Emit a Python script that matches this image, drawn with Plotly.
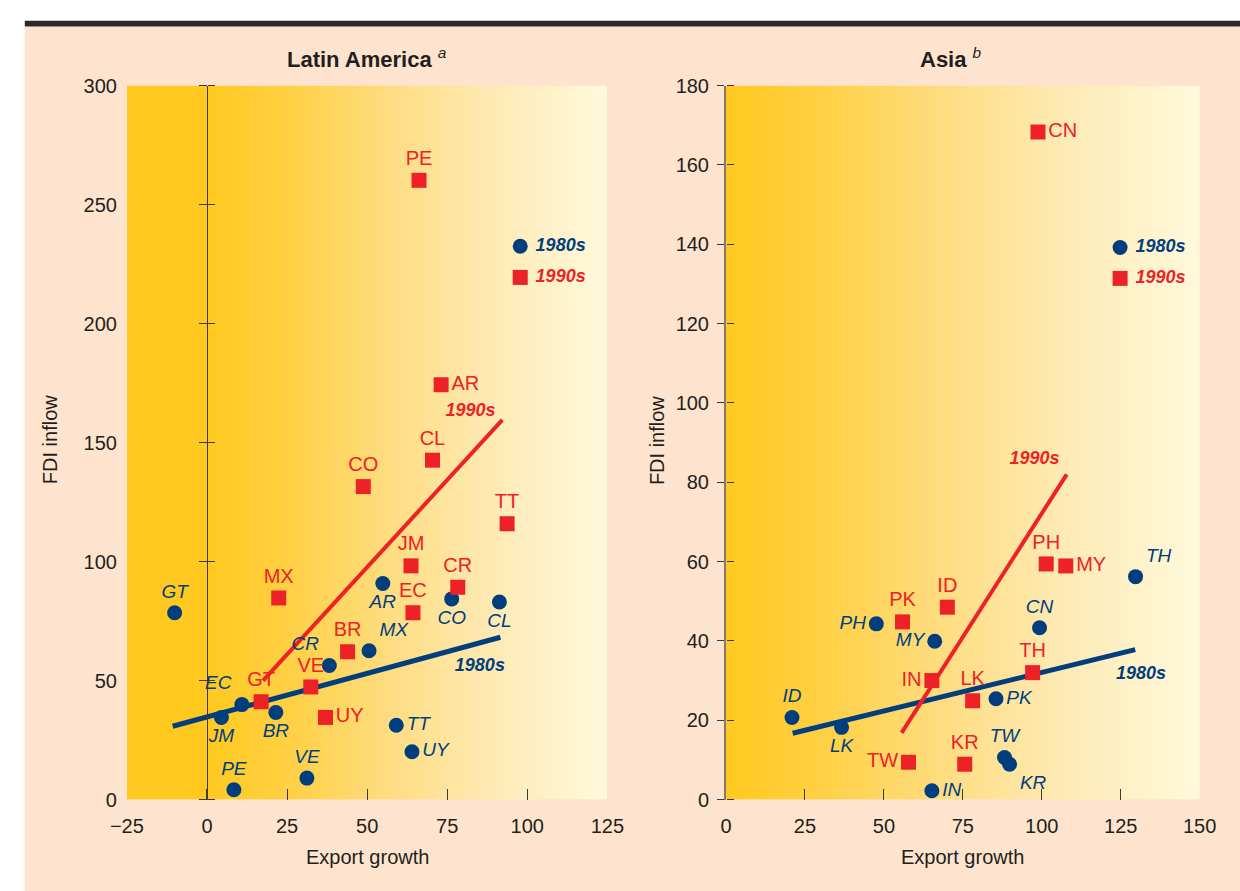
import numpy as np
import plotly.graph_objects as go

# ---------------------------------------------------------------- data
# Latin America, average of the 1980s (circles)
la80_codes = ["GT", "EC", "JM", "BR", "PE", "VE", "CR", "MX", "AR", "CO", "CL", "TT", "UY"]
la80_export = [-10.1, 10.9, 4.5, 21.5, 8.4, 31.2, 38.2, 50.6, 54.9, 76.4, 91.3, 59.1, 64.0]
la80_fdi = [78.5, 39.9, 34.5, 36.6, 4.1, 9.0, 56.3, 62.5, 90.8, 84.3, 83.0, 31.2, 20.1]

# Latin America, 1990s (squares)
la90_codes = ["PE", "AR", "CL", "CO", "TT", "JM", "CR", "EC", "MX", "BR", "VE", "GT", "UY"]
la90_export = [66.2, 73.1, 70.4, 48.8, 93.7, 63.7, 78.3, 64.3, 22.4, 43.9, 32.4, 16.9, 37.0]
la90_fdi = [260.2, 174.3, 142.6, 131.5, 115.9, 98.2, 89.2, 78.5, 84.7, 62.1, 47.3, 41.1, 34.5]

# Asia, 1980s (circles)
asia80_codes = ["ID", "LK", "PH", "MY", "IN", "CN", "TH", "PK", "TW", "KR"]
asia80_export = [20.9, 36.6, 47.6, 66.1, 65.2, 99.3, 129.7, 85.5, 88.2, 89.8]
asia80_fdi = [20.7, 18.2, 44.3, 39.9, 2.2, 43.3, 56.2, 25.4, 10.6, 8.9]

# Asia, 1990s (squares)
asia90_codes = ["CN", "PH", "MY", "ID", "PK", "IN", "LK", "TH", "TW", "KR"]
asia90_export = [98.8, 101.4, 107.6, 70.1, 55.9, 65.2, 78.1, 97.1, 57.8, 75.6]
asia90_fdi = [168.3, 59.4, 58.9, 48.5, 44.8, 30.0, 24.9, 32.0, 9.4, 8.9]

# Fitted trend lines (end points)
la_fit80_x, la_fit80_y = [-10.7, 91.6], [30.8, 68.2]
la_fit90_x, la_fit90_y = [17.5, 92.2], [50.0, 159.5]
asia_fit80_x, asia_fit80_y = [21.1, 129.6], [16.7, 37.8]
asia_fit90_x, asia_fit90_y = [55.6, 107.9], [16.8, 82.0]

# Trend line captions
la_fit_label_x, la_fit_label_y = [85.2, 82.3], [55.9, 163.0]
asia_fit_label_x, asia_fit_label_y = [131.4, 97.7], [31.4, 85.7]
fit_label_text = ["1980s", "1990s"]

# Key (legend) entries drawn inside each panel
la_key_x, la_key_y = [97.8, 97.8], [232.5, 219.4]
asia_key_x, asia_key_y = [124.8, 124.8], [139.2, 131.4]
key_text = ["\u00a01980s", "\u00a01990s"]

# Axes
la_x_range, la_y_range = [-25, 125], [0, 300]
asia_x_range, asia_y_range = [0, 150], [0, 180]
la_x_ticks = [-25, 0, 25, 50, 75, 100, 125]
la_y_ticks = [0, 50, 100, 150, 200, 250, 300]
asia_x_ticks = [0, 25, 50, 75, 100, 125, 150]
asia_y_ticks = [0, 20, 40, 60, 80, 100, 120, 140, 160, 180]

# ---------------------------------------------------------------- styles
W, H = 1240, 891
FONT = "Liberation Sans, Arial, Helvetica, sans-serif"
INK = "#231F20"
NAVY = "#003E7E"
RED = "#EC2227"
PEACH = "#FEE4CE"
GRADIENT = [[0.0, "#FFC91F"], [0.2, "#FFD043"], [0.45, "#FEDC7F"],
            [0.7, "#FEE9B2"], [1.0, "#FFF9DC"]]


def px(x):
    """pixel column -> paper x"""
    return x / W


def py(y):
    """pixel row (from top) -> paper y"""
    return 1 - y / H


# label placement around each marker
la80_pos = {"GT": "top center", "EC": "top left", "JM": "bottom center", "BR": "bottom center",
            "PE": "top center", "VE": "top center", "CR": "top left", "MX": "top right",
            "AR": "bottom center", "CO": "bottom center", "CL": "bottom center",
            "TT": "middle right", "UY": "middle right"}
la90_pos = {"PE": "top center", "AR": "middle right", "CL": "top center", "CO": "top center",
            "TT": "top center", "JM": "top center", "CR": "top center", "EC": "top center",
            "MX": "top center", "BR": "top center", "VE": "top center", "GT": "top center",
            "UY": "middle right"}
asia80_pos = {"ID": "top center", "LK": "bottom center", "PH": "middle left", "MY": "middle left",
              "IN": "middle right", "CN": "top center", "TH": "top right", "PK": "middle right",
              "TW": "top center", "KR": "bottom right"}
asia90_pos = {"CN": "middle right", "PH": "top center", "MY": "middle right", "ID": "top center",
              "PK": "top center", "IN": "middle left", "LK": "top center", "TH": "top center",
              "TW": "middle left", "KR": "top center"}

# panel geometry
la_dom_x = [px(113), px(607)]
asia_dom_x = [px(729), px(1216)]
dom_y = [py(808.5), py(76.5)]

fig = go.Figure()


def gradient_background(x_range, y_range, xa, ya):
    """Horizontal yellow fade drawn as a heatmap filling the plot area."""
    edges = np.linspace(x_range[0], x_range[1], 401)
    centers = (edges[:-1] + edges[1:]) / 2
    t = np.clip(centers, 0, None) / x_range[1]
    fig.add_trace(go.Heatmap(x=edges, y=list(y_range), z=[t.tolist()], zmin=0, zmax=1,
                             colorscale=GRADIENT, showscale=False, hoverinfo="skip",
                             xaxis=xa, yaxis=ya))


def points(xs, ys, codes, pos, symbol, color, italic, size, xa, ya):
    fig.add_trace(go.Scatter(
        x=xs, y=ys, text=codes, mode="markers+text",
        textposition=[pos[c] for c in codes],
        marker=dict(symbol=symbol, size=15, color=color, line=dict(width=0)),
        textfont=dict(family=FONT, size=size, color=color,
                      style="italic" if italic else "normal"),
        cliponaxis=False, showlegend=False, hoverinfo="skip", xaxis=xa, yaxis=ya))


def fit_line(xs, ys, color, width, xa, ya):
    fig.add_trace(go.Scatter(x=xs, y=ys, mode="lines",
                             line=dict(color=color, width=width),
                             showlegend=False, hoverinfo="skip", xaxis=xa, yaxis=ya))


def captions(xs, ys, xa, ya):
    fig.add_trace(go.Scatter(x=xs, y=ys, text=fit_label_text, mode="text",
                             textposition="middle center",
                             textfont=dict(family=FONT, size=18, color=[NAVY, RED],
                                           style="italic", weight="bold"),
                             showlegend=False, hoverinfo="skip", xaxis=xa, yaxis=ya))


def key(xs, ys, xa, ya):
    fig.add_trace(go.Scatter(x=xs, y=ys, text=key_text, mode="markers+text",
                             textposition="middle right",
                             marker=dict(symbol=["circle", "square"], size=15,
                                         color=[NAVY, RED]),
                             textfont=dict(family=FONT, size=18, color=[NAVY, RED],
                                           style="italic", weight="bold"),
                             cliponaxis=False, showlegend=False, hoverinfo="skip",
                             xaxis=xa, yaxis=ya))


def axis_host(xa, ya):
    # empty trace so the overlay tick axes get drawn
    fig.add_trace(go.Scatter(x=[None], y=[None], mode="markers", showlegend=False,
                             hoverinfo="skip", xaxis=xa, yaxis=ya))


# Latin America panel
gradient_background(la_x_range, la_y_range, "x", "y")
fit_line(la_fit80_x, la_fit80_y, NAVY, 5, "x", "y")
fit_line(la_fit90_x, la_fit90_y, RED, 4, "x", "y")
points(la80_export, la80_fdi, la80_codes, la80_pos, "circle", NAVY, True, 19, "x", "y")
points(la90_export, la90_fdi, la90_codes, la90_pos, "square", RED, False, 20, "x", "y")
captions(la_fit_label_x, la_fit_label_y, "x", "y")
key(la_key_x, la_key_y, "x", "y")
axis_host("x", "y3")
axis_host("x", "y4")

# Asia panel
gradient_background(asia_x_range, asia_y_range, "x2", "y2")
fit_line(asia_fit80_x, asia_fit80_y, NAVY, 5, "x2", "y2")
fit_line(asia_fit90_x, asia_fit90_y, RED, 4, "x2", "y2")
points(asia80_export, asia80_fdi, asia80_codes, asia80_pos, "circle", NAVY, True, 19, "x2", "y2")
points(asia90_export, asia90_fdi, asia90_codes, asia90_pos, "square", RED, False, 20, "x2", "y2")
captions(asia_fit_label_x, asia_fit_label_y, "x2", "y2")
key(asia_key_x, asia_key_y, "x2", "y2")
axis_host("x2", "y5")

tick_font = dict(family=FONT, size=20, color=INK)
bare = dict(showgrid=False, zeroline=False, fixedrange=True)

zero_pos = la_dom_x[0] + (0 - la_x_range[0]) / (la_x_range[1] - la_x_range[0]) * (la_dom_x[1] - la_dom_x[0])

fig.update_layout(
    width=W, height=H, margin=dict(l=0, r=0, t=0, b=0),
    paper_bgcolor="white", plot_bgcolor="rgba(0,0,0,0)",
    font=dict(family=FONT, color=INK),
    xaxis=dict(domain=la_dom_x, range=la_x_range, anchor="y", tickvals=la_x_ticks,
               ticks="inside", ticklen=11, tickcolor="#3A3A3A", tickwidth=1,
               showline=False, tickfont=tick_font, ticklabelstandoff=12, **bare),
    yaxis=dict(domain=dom_y, range=la_y_range, anchor="x", tickvals=la_y_ticks,
               ticks="", showline=False, tickfont=tick_font, ticklabelstandoff=9, **bare),
    yaxis3=dict(overlaying="y", anchor="free", position=zero_pos, range=la_y_range,
                tickvals=la_y_ticks, ticks="outside", ticklen=8, tickcolor="#3A3A3A",
                showline=True, linecolor="#3A3A3A", linewidth=1,
                showticklabels=False, **bare),
    yaxis4=dict(overlaying="y", side="right", anchor="free", position=zero_pos,
                range=la_y_range, tickvals=la_y_ticks, ticks="outside", ticklen=7,
                tickcolor="#3A3A3A", showline=False, showticklabels=False, **bare),
    xaxis2=dict(domain=asia_dom_x, range=asia_x_range, anchor="y2", tickvals=asia_x_ticks,
                ticks="inside", ticklen=11, tickcolor="#3A3A3A", tickwidth=1,
                showline=False, tickfont=tick_font, ticklabelstandoff=12, **bare),
    yaxis2=dict(domain=dom_y, range=asia_y_range, anchor="x2", tickvals=asia_y_ticks,
                ticks="outside", ticklen=7, tickcolor="#3A3A3A", showline=True,
                linecolor="#85796D", linewidth=2, tickfont=tick_font,
                ticklabelstandoff=4, **bare),
    yaxis5=dict(overlaying="y2", side="right", anchor="free", position=asia_dom_x[0],
                range=asia_y_range, tickvals=asia_y_ticks, ticks="outside", ticklen=7,
                tickcolor="#3A3A3A", showline=False, showticklabels=False, **bare),
    shapes=[
        dict(type="rect", xref="paper", yref="paper", x0=px(8), x1=1.02, y0=-0.02, y1=py(16),
             fillcolor=PEACH, line=dict(width=0), layer="below"),
        dict(type="rect", xref="paper", yref="paper", x0=px(8), x1=1.02, y0=py(16),
             y1=py(10), fillcolor="#2A2A2A", line=dict(width=0), layer="below"),
    ],
)

ann = []
# panel titles
ann.append(dict(text="<b>Latin America</b> <sup><i>a</i></sup>", x=sum(la_dom_x) / 2,
                y=py(48), xref="paper", yref="paper", showarrow=False,
                font=dict(family=FONT, size=22, color=INK), xanchor="center", yanchor="middle"))
ann.append(dict(text="<b>Asia</b> <sup><i>b</i></sup>", x=sum(asia_dom_x) / 2 - 12 / W,
                y=py(48), xref="paper", yref="paper", showarrow=False,
                font=dict(family=FONT, size=22, color=INK), xanchor="center", yanchor="middle"))
# axis titles
for dom in (la_dom_x, asia_dom_x):
    ann.append(dict(text="Export growth", x=sum(dom) / 2, y=py(867), xref="paper",
                    yref="paper", showarrow=False, font=dict(family=FONT, size=20, color=INK),
                    xanchor="center", yanchor="middle"))
for xcol in (34, 658):
    ann.append(dict(text="FDI inflow", x=px(xcol), y=py(440), xref="paper", yref="paper",
                    showarrow=False, textangle=-90, font=dict(family=FONT, size=20, color=INK),
                    xanchor="center", yanchor="middle"))
fig.update_layout(annotations=ann)

# page without its default body margin, so the figure sits flush in the window
page_css = ("document.body.style.margin='0';"
            "document.body.style.overflow='hidden';"
            "document.documentElement.style.overflow='hidden';")

fig.write_html("out.html", post_script=page_css)
